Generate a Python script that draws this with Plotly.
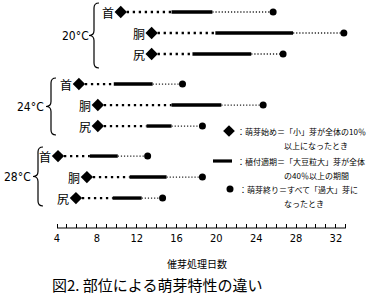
import plotly.graph_objects as go

# Sprouting characteristics by tuber part (首 / 胴 / 尻) at three temperatures
groups = ["20°C", "24°C", "28°C"]
parts = ["首", "胴", "尻"]

# days of forcing treatment, one entry per row (20°C rows, then 24°C, then 28°C)
sprout_start = [10.4, 13.5, 13.5, 6.2, 8.1, 8.1, 4.1, 7.0, 5.9]   # ◆ 萌芽始め
plant_from = [15.5, 19.9, 17.6, 9.7, 15.5, 13.0, 7.3, 11.3, 9.6]   # 植付適期 start
plant_to = [19.6, 27.7, 23.5, 13.6, 20.5, 15.5, 10.1, 15.0, 12.5]  # 植付適期 end
sprout_end = [25.7, 32.8, 26.7, 16.6, 24.7, 18.6, 13.1, 18.6, 14.6]  # ● 萌芽終り

tick_days = list(range(4, 34))
tick_labels = [str(d) if d % 4 == 0 else "" for d in tick_days]

legend_lines = [
    ("：萌芽始め＝「小」芽が全体の10％", "以上になったとき"),
    ("：植付適期＝「大豆粒大」芽が全体", "の40％以上の期間"),
    ("：萌芽終り＝すべて「過大」芽に", "なったとき"),
]
x_title = "催芽処理日数"
caption = "図2. 部位による萌芽特性の違い"

# ---- page geometry (pixels) ----
W, H = 367, 295
PLOT_BOTTOM = 228          # axis baseline
PX_DAY4 = 57               # pixel column of day 4
PX_PER_DAY = 9.96
ROW_PX0, ROW_STEP = 12, 21  # first row centre and row pitch
GROUP_GAP = 1.43            # extra spacing (in rows) between temperature groups

X_MIN = 4 - PX_DAY4 / PX_PER_DAY
X_MAX = 4 + (W - PX_DAY4) / PX_PER_DAY
Y_TOP = (0 - ROW_PX0) / ROW_STEP
Y_BOT = (PLOT_BOTTOM - ROW_PX0) / ROW_STEP


def dx(px):
    return 4 + (px - PX_DAY4) / PX_PER_DAY


def dy(py):
    return (py - ROW_PX0) / ROW_STEP


row_pos = [g * (2 + GROUP_GAP) + r for g in range(len(groups)) for r in range(len(parts))]

CJK = "Noto Sans CJK JP"
NUM = "Liberation Sans Narrow, DejaVu Sans Condensed, Liberation Sans, sans-serif"

fig = go.Figure()


def segments(a, b):
    xs, ys = [], []
    for x0, x1, y in zip(a, b, row_pos):
        xs += [x0, x1, None]
        ys += [y, y, None]
    return xs, ys


# coarse dotted: from sprouting start to planting period
xs, ys = segments(sprout_start, plant_from)
fig.add_trace(go.Scatter(x=xs, y=ys, mode="lines",
                         line=dict(color="black", width=2.3, dash="2.3px,3.7px"),
                         hoverinfo="skip"))
# solid: planting period
xs, ys = segments(plant_from, plant_to)
fig.add_trace(go.Scatter(x=xs, y=ys, mode="lines",
                         line=dict(color="black", width=3.4), hoverinfo="skip"))
# fine dotted: planting period end to sprouting end
xs, ys = segments(plant_to, sprout_end)
fig.add_trace(go.Scatter(x=xs, y=ys, mode="lines",
                         line=dict(color="#222", width=1.3, dash="1.2px,1.9px"),
                         hoverinfo="skip"))
# markers
fig.add_trace(go.Scatter(x=sprout_start, y=row_pos, mode="markers",
                         marker=dict(symbol="diamond", size=9.5, color="black"),
                         hoverinfo="skip"))
fig.add_trace(go.Scatter(x=sprout_end, y=row_pos, mode="markers",
                         marker=dict(symbol="circle", size=7, color="black"),
                         hoverinfo="skip"))

annotations = []
# part labels just left of each start diamond
for i, x0 in enumerate(sprout_start):
    annotations.append(dict(x=x0, y=row_pos[i], xref="x", yref="y",
                            text=parts[i % 3], showarrow=False,
                            xanchor="right", yanchor="middle", xshift=-5,
                            font=dict(family=CJK, size=12, color="black")))

# temperature braces and labels (pixel layout)
brace_px = [  # spine x, top y, bottom y, label centre x
    (94, 3, 68, 75),
    (51, 78, 135, 30),
    (38, 147, 206, 17),
]
shapes = []
for (sx, top, bot, lx), g in zip(brace_px, groups):
    mid = (top + bot) / 2
    r, a, w = 5, 5, 5
    path = (f"M {dx(sx + a)},{dy(top)} Q {dx(sx)},{dy(top)} {dx(sx)},{dy(top + r)} "
            f"L {dx(sx)},{dy(mid - r)} Q {dx(sx)},{dy(mid)} {dx(sx - w)},{dy(mid)} "
            f"Q {dx(sx)},{dy(mid)} {dx(sx)},{dy(mid + r)} "
            f"L {dx(sx)},{dy(bot - r)} Q {dx(sx)},{dy(bot)} {dx(sx + a)},{dy(bot)}")
    shapes.append(dict(type="path", path=path, xref="x", yref="y",
                       line=dict(color="black", width=1.2)))
    annotations.append(dict(x=dx(lx), y=dy(mid), xref="x", yref="y", text=g,
                            showarrow=False, xanchor="center", yanchor="middle",
                            font=dict(family=NUM, size=12, color="black")))

# key
key_rows_px = [131, 161, 189]
fig.add_trace(go.Scatter(x=[dx(229)], y=[dy(key_rows_px[0])], mode="markers",
                         marker=dict(symbol="diamond", size=9, color="black"),
                         hoverinfo="skip"))
fig.add_trace(go.Scatter(x=[dx(213), dx(232)], y=[dy(key_rows_px[1])] * 2, mode="lines",
                         line=dict(color="black", width=3.2), hoverinfo="skip"))
fig.add_trace(go.Scatter(x=[dx(230)], y=[dy(key_rows_px[2])], mode="markers",
                         marker=dict(symbol="circle", size=7, color="black"),
                         hoverinfo="skip"))
for (l1, l2), py, lx in zip(legend_lines, key_rows_px, [235, 235, 237]):
    annotations.append(dict(x=dx(lx), y=dy(py), xref="x", yref="y", text=l1,
                            showarrow=False, xanchor="left", yanchor="middle",
                            font=dict(family=CJK, size=8, color="black")))
    annotations.append(dict(x=dx(282), y=dy(py + 14), xref="x", yref="y", text=l2,
                            showarrow=False, xanchor="left", yanchor="middle",
                            font=dict(family=CJK, size=8, color="black")))

# axis baseline from day 4 to day 33
shapes.append(dict(type="line", xref="x", yref="paper", x0=4, x1=33, y0=0, y1=0,
                   line=dict(color="black", width=1)))

annotations.append(dict(x=dx(197), y=-(263 - PLOT_BOTTOM) / PLOT_BOTTOM,
                        xref="x", yref="paper", text=x_title, showarrow=False,
                        xanchor="center", yanchor="middle",
                        font=dict(family=CJK, size=10, color="black")))
annotations.append(dict(x=dx(50), y=-(284 - PLOT_BOTTOM) / PLOT_BOTTOM,
                        xref="x", yref="paper", text=caption, showarrow=False,
                        xanchor="left", yanchor="middle",
                        font=dict(family=CJK, size=15, color="black")))

fig.update_layout(
    width=W, height=H,
    margin=dict(l=0, r=0, t=0, b=H - PLOT_BOTTOM, pad=0),
    paper_bgcolor="white", plot_bgcolor="white",
    showlegend=False,
    shapes=shapes, annotations=annotations,
    xaxis=dict(range=[X_MIN, X_MAX], showgrid=False, zeroline=False, showline=False,
               tickmode="array", tickvals=tick_days, ticktext=tick_labels,
               ticks="inside", ticklen=4, tickwidth=1, tickcolor="black",
               tickfont=dict(family=NUM, size=11, color="black"), ticklabelstandoff=2),
    yaxis=dict(range=[Y_BOT, Y_TOP], visible=False, showgrid=False, zeroline=False),
)

fig.write_html("out.html")
